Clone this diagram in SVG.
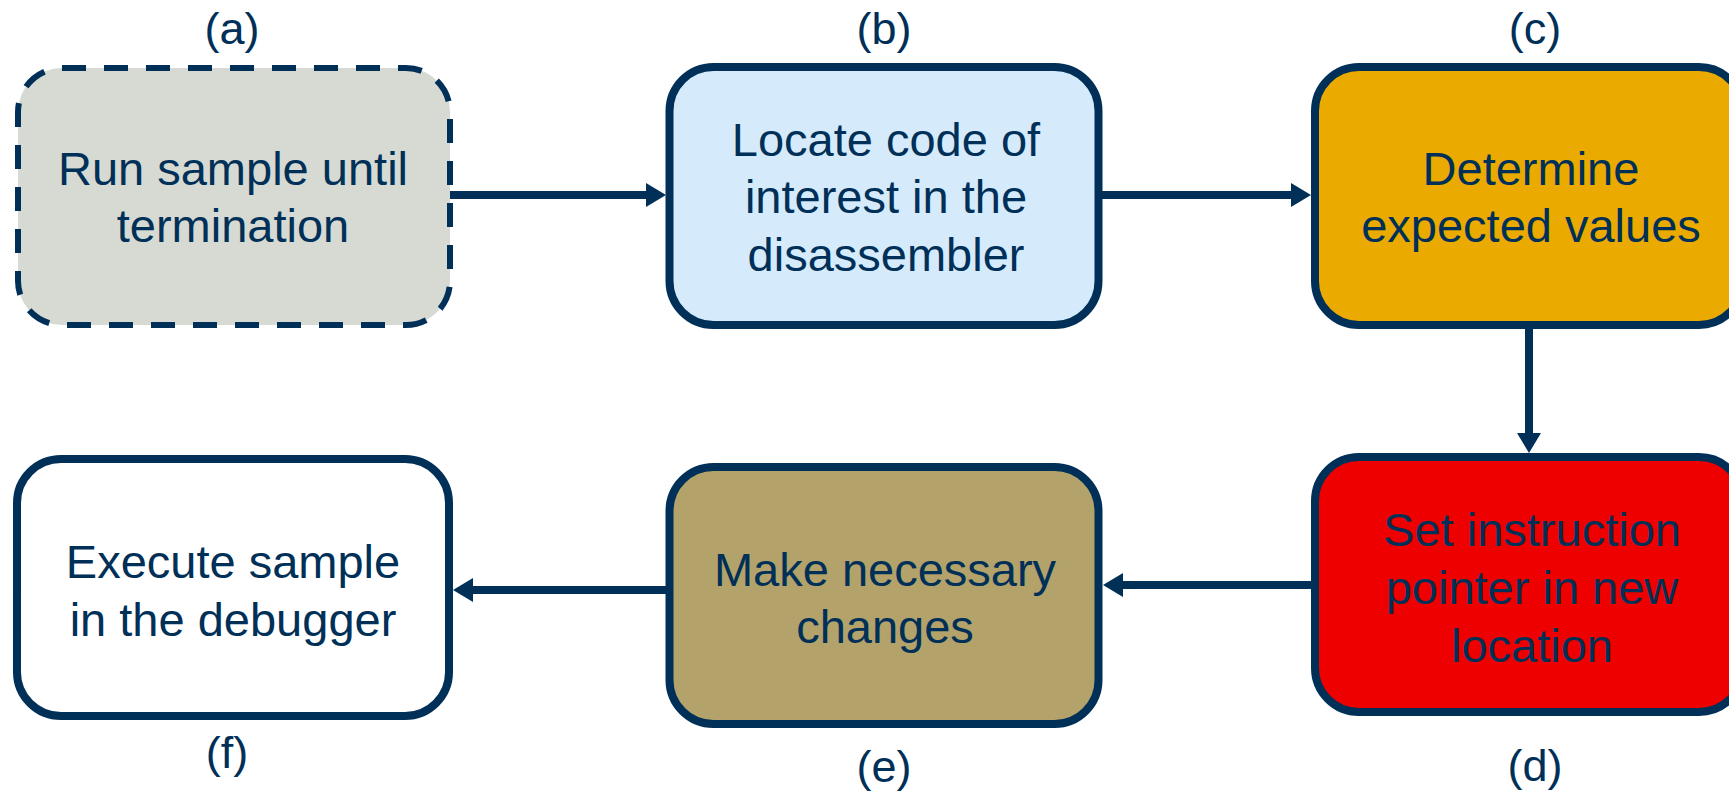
<svg xmlns="http://www.w3.org/2000/svg" width="1729" height="793" viewBox="0 0 1729 793">
<style>
.box{stroke:#003057;stroke-width:8}
.dash{stroke:#003057;stroke-width:6;stroke-dasharray:24 18}
.t{font-family:"Liberation Sans",Arial,sans-serif;font-size:47px;fill:#003057;text-anchor:middle}
.lbl{font-family:"Liberation Sans",Arial,sans-serif;font-size:45px;fill:#003057;text-anchor:middle}
.conn{stroke:#003057;stroke-width:8;fill:none}
</style>
<defs>
<marker id="arr" markerUnits="userSpaceOnUse" markerWidth="20" markerHeight="24" viewBox="0 0 20 24" refX="0" refY="12" orient="auto">
<path d="M0,0 L20,12 L0,24 z" fill="#003057"/>
</marker>
</defs>
<rect width="1729" height="793" fill="#ffffff"/>
<g id="connectors">
<line class="conn" x1="450" y1="195" x2="646" y2="195" marker-end="url(#arr)"/>
<line class="conn" x1="1098" y1="195" x2="1291" y2="195" marker-end="url(#arr)"/>
<line class="conn" x1="1529" y1="328" x2="1529" y2="433" marker-end="url(#arr)"/>
<line class="conn" x1="1312" y1="585" x2="1123" y2="585" marker-end="url(#arr)"/>
<line class="conn" x1="667" y1="590" x2="473" y2="590" marker-end="url(#arr)"/>
</g>
<g id="node-a">
<rect class="dash" x="18" y="68" width="432" height="257" rx="44" fill="#D6DAD3"/>
<text class="t" x="233" y="185">Run sample until</text>
<text class="t" x="233" y="242">termination</text>
<text class="lbl" x="232" y="44">(a)</text>
</g>
<g id="node-b">
<rect class="box" x="669.5" y="67" width="429" height="258" rx="44" fill="#D5EAFB"/>
<text class="t" x="886" y="156">Locate code of</text>
<text class="t" x="886" y="213">interest in the</text>
<text class="t" x="886" y="271">disassembler</text>
<text class="lbl" x="884" y="44">(b)</text>
</g>
<g id="node-c">
<rect class="box" x="1315" y="67" width="428" height="258" rx="44" fill="#EAAA00"/>
<text class="t" x="1531" y="185">Determine</text>
<text class="t" x="1531" y="242">expected values</text>
<text class="lbl" x="1535" y="44">(c)</text>
</g>
<g id="node-d">
<rect class="box" x="1315" y="457" width="428" height="255" rx="44" fill="#EE0000"/>
<text class="t" x="1532" y="546">Set instruction</text>
<text class="t" x="1532" y="604">pointer in new</text>
<text class="t" x="1532" y="662">location</text>
<text class="lbl" x="1535" y="781">(d)</text>
</g>
<g id="node-e">
<rect class="box" x="669.5" y="467" width="429" height="257" rx="44" fill="#B3A26A"/>
<text class="t" x="885" y="586">Make necessary</text>
<text class="t" x="885" y="643">changes</text>
<text class="lbl" x="884" y="782">(e)</text>
</g>
<g id="node-f">
<rect class="box" x="17" y="459" width="432" height="257" rx="44" fill="#ffffff"/>
<text class="t" x="233" y="578">Execute sample</text>
<text class="t" x="233" y="636">in the debugger</text>
<text class="lbl" x="227" y="768">(f)</text>
</g>
</svg>
